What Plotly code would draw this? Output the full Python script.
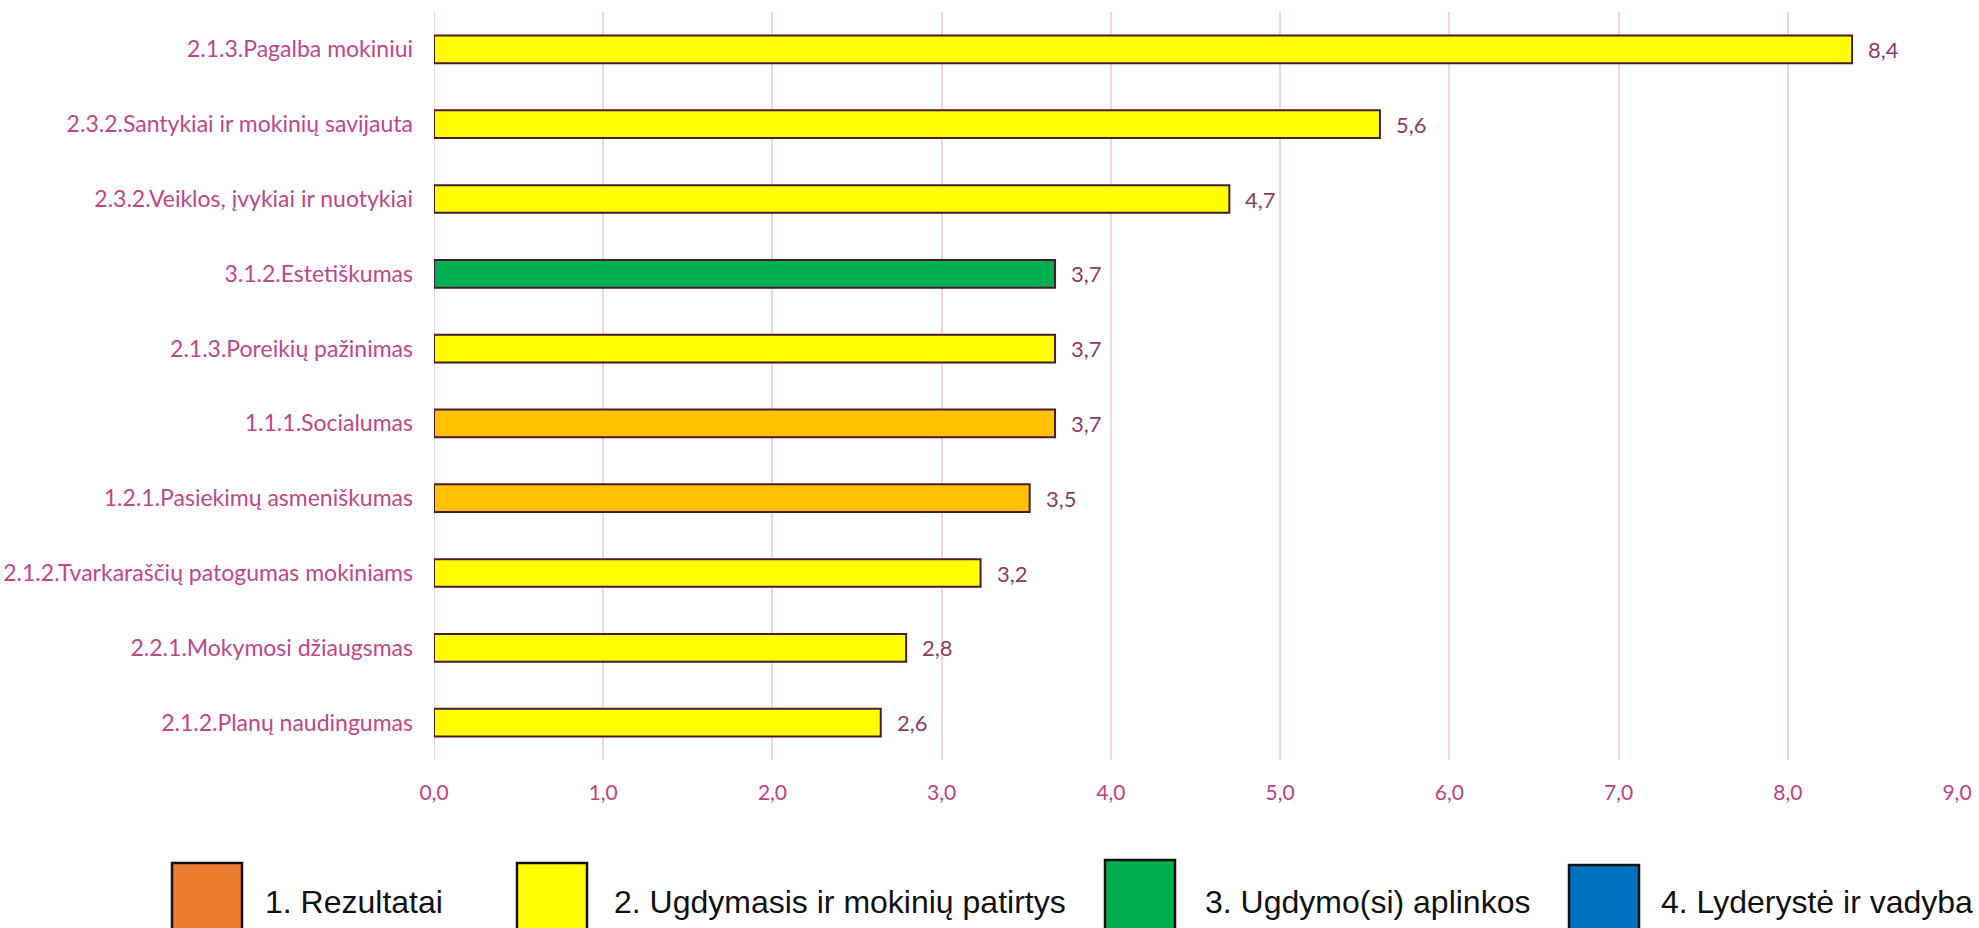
import plotly.graph_objects as go

# ---------------- data ----------------
categories = [
    "2.1.3.Pagalba mokiniui",
    "2.3.2.Santykiai ir mokinių savijauta",
    "2.3.2.Veiklos, įvykiai ir nuotykiai",
    "3.1.2.Estetiškumas",
    "2.1.3.Poreikių pažinimas",
    "1.1.1.Socialumas",
    "1.2.1.Pasiekimų asmeniškumas",
    "2.1.2.Tvarkaraščių patogumas mokiniams",
    "2.2.1.Mokymosi džiaugsmas",
    "2.1.2.Planų naudingumas",
]
values = [8.38, 5.59, 4.70, 3.67, 3.67, 3.67, 3.52, 3.23, 2.79, 2.64]
x_ticks = [0, 1, 2, 3, 4, 5, 6, 7, 8, 9]

legend_names = [
    "1. Rezultatai",
    "2. Ugdymasis ir mokinių patirtys",
    "3. Ugdymo(si) aplinkos",
    "4. Lyderystė ir vadyba",
]
legend_colors = ["#ED7D31", "#FFFF00", "#00B050", "#0070C0"]

# bar fill per area (first digit of the category code)
area_bar_colors = {"1": "#FFC000", "2": "#FFFF00", "3": "#00B050", "4": "#0070C0"}
bar_colors = [area_bar_colors[c[0]] for c in categories]

# ---------------- layout geometry ----------------
W, H = 1979, 928
ML, MR, MT, MB = 434, 22, 12, 168
PW, PH = W - ML - MR, H - MT - MB


def px_x(x):
    return (x - ML) / PW


def px_y(y):
    return (H - MB - y) / PH


LABEL_COLOR = "#C0468A"
TICK_COLOR = "#C0407F"
VALUE_COLOR = "#8E3A66"
GRID_COLOR = "#F2D3E1"
OUTLINE = "#4A1A33"

fig = go.Figure()
fig.add_trace(
    go.Bar(
        y=categories,
        x=values,
        orientation="h",
        marker=dict(color=bar_colors, line=dict(color=OUTLINE, width=2)),
        showlegend=False,
        hoverinfo="x+y",
    )
)

# value labels
for cat, v in zip(categories, values):
    fig.add_annotation(
        x=v, y=cat, xref="x", yref="y",
        text=f"{v:.1f}".replace(".", ","),
        showarrow=False, xanchor="left", yanchor="middle", xshift=14,
        font=dict(family="Lato", size=22, color=VALUE_COLOR),
    )

# legend drawn as shapes + text
sq_left = [172, 517, 1105, 1569]
sq_top = [863, 863, 860, 865]
sq_w = 70
txt_left = [263, 612, 1203, 1659]
for name, col, sl, st, tl in zip(legend_names, legend_colors, sq_left, sq_top, txt_left):
    fig.add_shape(
        type="rect", xref="paper", yref="paper",
        x0=px_x(sl), x1=px_x(sl + sq_w), y0=px_y(st), y1=px_y(H + 20),
        fillcolor=col, line=dict(color="#111111", width=2.5),
    )
    fig.add_annotation(
        x=px_x(tl), y=px_y(902), xref="paper", yref="paper",
        text=name, showarrow=False, xanchor="left", yanchor="middle",
        font=dict(family="Liberation Sans", size=32, color="#111111"),
    )

fig.update_layout(
    width=W, height=H,
    margin=dict(l=ML, r=MR, t=MT, b=MB, autoexpand=False),
    paper_bgcolor="white", plot_bgcolor="white",
    bargap=0.63,
    separators=", ",
    xaxis=dict(
        range=[0, 9], tickvals=x_ticks, tickformat=".1f",
        showgrid=True, gridcolor=GRID_COLOR, gridwidth=2,
        zeroline=False, showline=False, ticks="",
        tickfont=dict(family="Lato", size=21, color=TICK_COLOR),
        ticklabelstandoff=18, automargin=False,
        fixedrange=True,
    ),
    yaxis=dict(
        autorange="reversed", showgrid=False, zeroline=False,
        showline=False, ticks="",
        tickfont=dict(family="Lato", size=23, color=LABEL_COLOR),
        ticklabelstandoff=20, automargin=False,
        fixedrange=True,
    ),
)
# left axis line at x=0 drawn in the gridline colour
fig.add_shape(type="line", xref="x", yref="paper", x0=0, x1=0, y0=0, y1=1,
              line=dict(color=GRID_COLOR, width=2), layer="below")

fig.write_html(
    "out.html",
    config={"displayModeBar": False},
    post_script="document.body.style.margin='0';document.body.style.overflow='hidden';",
)
